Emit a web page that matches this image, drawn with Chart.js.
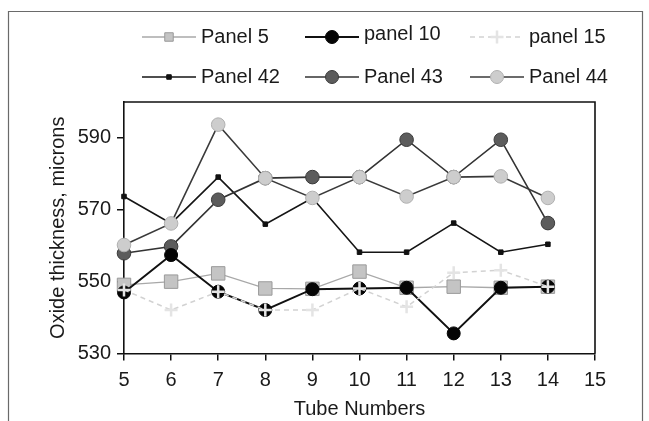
<!DOCTYPE html>
<html><head><meta charset="utf-8">
<script src="https://cdn.jsdelivr.net/npm/chart.js@4/dist/chart.umd.min.js"></script>
<style>html,body{margin:0;padding:0;background:#fff}#wrap{width:649px;height:421px;position:relative}canvas{display:block}</style>
</head><body><div id="wrap"><canvas id="c" width="649" height="421"></canvas></div>
<script>
// ---- data ----
const tubeNumbers = [5, 6, 7, 8, 9, 10, 11, 12, 13, 14];
const panel5  = [549.1, 550.0, 552.3, 548.1, 548.0, 552.8, 548.3, 548.6, 548.3, 548.6];
const panel10 = [547.0, 557.4, 547.2, 542.1, 547.9, 548.1, 548.3, 535.6, 548.3, 548.6];
const panel15 = [547.7, 542.1, 547.2, 542.1, 542.1, 548.1, 543.0, 552.5, 553.2, 548.6];
const panel42 = [573.7, 566.2, 579.1, 566.0, 573.3, 558.2, 558.2, 566.3, 558.2, 560.4];
const panel43 = [557.9, 559.8, 572.8, 578.8, 579.1, 579.1, 589.5, 579.1, 589.5, 566.3];
const panel44 = [560.2, 566.2, 593.7, 578.8, 573.3, 579.1, 573.7, 579.1, 579.3, 573.3];
const seriesLabels = ['Panel 5', 'panel 10', 'panel 15', 'Panel 42', 'Panel 43', 'Panel 44'];
const yTickValues = [530, 550, 570, 590];
const xTickValues = [5, 6, 7, 8, 9, 10, 11, 12, 13, 14, 15];

const pts = arr => arr.map((v, i) => ({x: tubeNumbers[i], y: v}));
const FONT = "'Liberation Sans', Arial, sans-serif";
const TXT = '#1a1a1a';

const datasets = [
  {label: seriesLabels[0], data: pts(panel5), order: 3, borderColor: '#a8a8a8', borderWidth: 1.3,
   pointStyle: 'rect', pointRadius: 9.5, pointBackgroundColor: '#c4c4c4', pointBorderColor: '#9a9a9a', pointBorderWidth: 1},
  {label: seriesLabels[1], data: pts(panel10), order: 2, borderColor: '#111', borderWidth: 2,
   pointStyle: 'circle', pointRadius: 6.5, pointBackgroundColor: '#050505', pointBorderColor: '#050505', pointBorderWidth: 1},
  {label: seriesLabels[2], data: pts(panel15), order: 0, borderColor: '#d2d2d2', borderWidth: 1.5, borderDash: [5, 4],
   pointStyle: 'cross', pointRadius: 6.5, pointBackgroundColor: '#e4e4e4', pointBorderColor: '#e4e4e4', pointBorderWidth: 2.5},
  {label: seriesLabels[3], data: pts(panel42), order: 5, borderColor: '#151515', borderWidth: 1.6,
   pointStyle: 'rect', pointRadius: 3.2, pointBackgroundColor: '#111', pointBorderColor: '#111', pointBorderWidth: 1},
  {label: seriesLabels[4], data: pts(panel43), order: 4, borderColor: '#333', borderWidth: 1.6,
   pointStyle: 'circle', pointRadius: 6.8, pointBackgroundColor: '#5c5c5c', pointBorderColor: '#3a3a3a', pointBorderWidth: 1},
  {label: seriesLabels[5], data: pts(panel44), order: 1, borderColor: '#3a3a3a', borderWidth: 1.6,
   pointStyle: 'circle', pointRadius: 6.8, pointBackgroundColor: '#cdcdcd', pointBorderColor: '#b0b0b0', pointBorderWidth: 1}
];
datasets.forEach(d => { d.fill = false; d.tension = 0; d.clip = false; d.pointHoverRadius = d.pointRadius; });

// layout constants
const legendCols = [142, 305, 470];
const legendRows = [37, 77];
const legendTextDy = [0, -3, 0, 0, 0, 0];

const framePlugin = {
  id: 'frame',
  beforeDraw(chart) {
    const ctx = chart.ctx;
    ctx.save();
    ctx.strokeStyle = '#6a6a6a';
    ctx.lineWidth = 1.2;
    ctx.beginPath();
    ctx.moveTo(8.5, 421); ctx.lineTo(8.5, 11.5); ctx.lineTo(642.5, 11.5); ctx.lineTo(642.5, 421);
    ctx.stroke();
    ctx.restore();
  },
  beforeDatasetsDraw(chart) {
    const {ctx, chartArea: a} = chart;
    ctx.save();
    ctx.strokeStyle = '#111';
    ctx.lineWidth = 1.6;
    ctx.beginPath();
    ctx.moveTo(a.left, a.top); ctx.lineTo(a.right, a.top); ctx.lineTo(a.right, a.bottom);
    ctx.stroke();
    ctx.restore();
  },
  afterDraw(chart) {
    const ctx = chart.ctx;
    ctx.save();
    chart.data.datasets.forEach((d, i) => {
      const x0 = legendCols[i % 3], y = legendRows[Math.floor(i / 3)];
      const len = 54;
      ctx.strokeStyle = d.borderColor;
      ctx.lineWidth = d.borderWidth;
      ctx.setLineDash(d.borderDash || []);
      ctx.beginPath(); ctx.moveTo(x0, y); ctx.lineTo(x0 + len, y); ctx.stroke();
      ctx.setLineDash([]);
      ctx.fillStyle = d.pointBackgroundColor;
      ctx.strokeStyle = d.pointBorderColor;
      ctx.lineWidth = d.pointBorderWidth;
      const r = d.pointStyle === 'rect' && d.pointRadius > 5 ? 6 : Math.min(d.pointRadius, 6.5);
      Chart.helpers.drawPoint(ctx, {pointStyle: d.pointStyle, radius: r, rotation: 0, borderWidth: d.pointBorderWidth}, x0 + len / 2, y);
      ctx.fillStyle = TXT;
      ctx.font = '20px ' + FONT;
      ctx.textBaseline = 'middle';
      ctx.textAlign = 'left';
      ctx.fillText(d.label, x0 + len + 5, y + legendTextDy[i]);
    });
    ctx.restore();
  }
};

new Chart(document.getElementById('c'), {
  type: 'line',
  data: {datasets},
  options: {
    responsive: false,
    animation: false,
    devicePixelRatio: 1,
    layout: {padding: {left: 0, right: 54, top: 102, bottom: 0}},
    plugins: {legend: {display: false}, tooltip: {enabled: false}},
    scales: {
      x: {
        type: 'linear', min: 5, max: 15,
        afterBuildTicks: s => { s.ticks = xTickValues.map(v => ({value: v})); },
        afterFit: s => { s.height = 67.5; },
        ticks: {color: TXT, font: {family: FONT, size: 20}, padding: 8, maxRotation: 0, autoSkip: false},
        grid: {drawOnChartArea: false, drawTicks: true, tickLength: 7, color: '#111', lineWidth: 1.5},
        border: {color: '#111', width: 1.6},
        title: {display: true, text: 'Tube Numbers', color: TXT, font: {family: FONT, size: 20}, padding: {top: 0, bottom: 0}}
      },
      y: {
        type: 'linear', min: 530, max: 600,
        afterBuildTicks: s => { s.ticks = yTickValues.map(v => ({value: v})); },
        afterFit: s => { s.width = 124; },
        ticks: {color: TXT, font: {family: FONT, size: 20}, padding: 6},
        grid: {drawOnChartArea: false, drawTicks: true, tickLength: 7, color: '#111', lineWidth: 1.5},
        border: {color: '#111', width: 1.6},
        title: {display: true, text: 'Oxide thickness, microns', color: TXT, font: {family: FONT, size: 20}, padding: {top: 46, bottom: 0}}
      }
    }
  },
  plugins: [framePlugin]
});
</script>
</body></html>
